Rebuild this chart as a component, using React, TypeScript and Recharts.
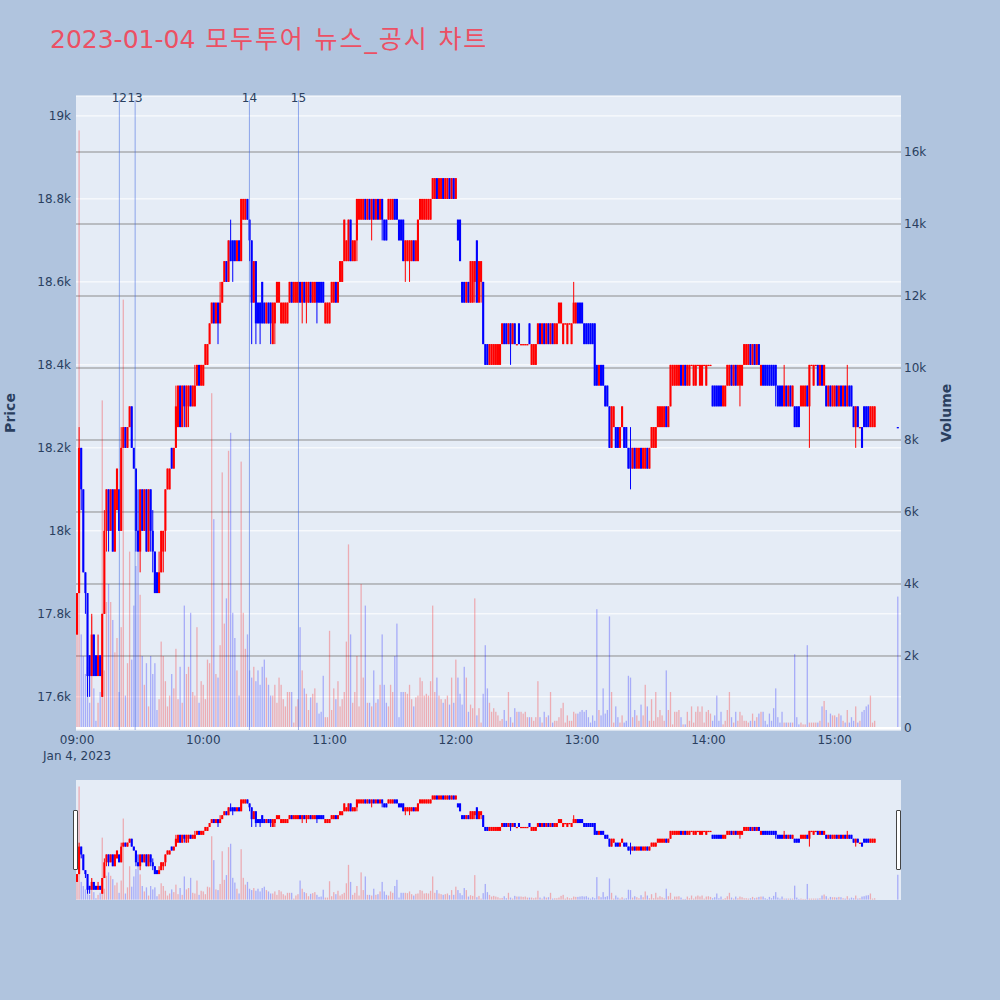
import React from 'react';
import { ComposedChart, Bar, XAxis, YAxis, CartesianGrid, ReferenceLine } from 'recharts';

// 1-minute candles, 09:00 .. 15:19 plus the 15:30 closing print
const MINUTES = [...Array.from({ length: 380 }, (_, i) => i), 390];

const OPEN = [
  17750,17850,18200,18100,17900,17850,17700,17650,17750,17700,
  17650,17700,17600,17800,18000,18100,18000,18100,17950,18050,
  18100,18000,18200,18250,18200,18250,18300,18200,18150,18000,
  17950,18100,18000,18100,17950,18100,18000,17950,17900,17850,
  17900,17950,18000,18100,18100,18200,18150,18200,18250,18350,
  18250,18350,18250,18300,18350,18300,18300,18350,18400,18350,
  18350,18400,18400,18450,18500,18550,18500,18550,18500,18550,
  18600,18650,18600,18700,18700,18700,18650,18700,18650,18750,
  18750,18800,18750,18700,18550,18650,18550,18550,18600,18550,
  18500,18550,18550,18450,18500,18550,18550,18500,18500,18500,
  18500,18550,18600,18550,18550,18550,18600,18550,18600,18550,
  18550,18600,18550,18550,18600,18600,18600,18600,18500,18500,
  18500,18550,18550,18600,18550,18600,18600,18650,18650,18650,
  18750,18650,18650,18700,18750,18750,18750,18800,18750,18800,
  18750,18800,18750,18800,18750,18800,18750,18750,18750,18750,
  18750,18800,18800,18750,18750,18750,18650,18650,18650,18650,
  18700,18650,18650,18750,18750,18750,18750,18750,18750,18800,
  18800,18850,18800,18800,18850,18800,18800,18850,18800,18850,
  18800,18750,18750,18600,18600,18550,18600,18550,18550,18600,
  18700,18550,18600,18600,18450,18450,18400,18400,18400,18400,
  18400,18400,18450,18500,18500,18450,18500,18450,18500,18450,
  18500,18450,18450,18450,18450,18500,18400,18400,18400,18450,
  18500,18450,18500,18450,18500,18450,18500,18450,18450,18500,
  18500,18450,18500,18450,18500,18450,18500,18500,18550,18550,
  18550,18500,18500,18500,18500,18500,18500,18400,18350,18400,
  18400,18350,18350,18300,18200,18250,18250,18250,18200,18250,
  18250,18250,18200,18200,18150,18200,18150,18150,18200,18150,
  18150,18200,18150,18200,18200,18200,18250,18250,18250,18250,
  18300,18250,18300,18350,18350,18350,18350,18400,18350,18400,
  18350,18350,18400,18350,18350,18400,18350,18350,18400,18350,
  18400,18400,18350,18350,18350,18350,18350,18300,18300,18350,
  18350,18400,18350,18400,18350,18350,18350,18400,18400,18400,
  18450,18400,18450,18400,18450,18350,18400,18400,18400,18400,
  18400,18400,18400,18350,18350,18350,18300,18350,18300,18350,
  18300,18300,18300,18300,18300,18300,18300,18350,18300,18400,
  18350,18400,18400,18350,18400,18350,18350,18300,18350,18300,
  18300,18350,18300,18350,18300,18350,18300,18350,18350,18300,
  18250,18300,18250,18250,18300,18300,18300,18250,18250,18250,
  18250,
];

const HIGH = [
  17850,18250,18200,18100,17900,17850,17700,17800,17750,17700,
  17750,17700,17800,18050,18100,18100,18100,18100,18100,18150,
  18100,18250,18250,18250,18250,18300,18300,18200,18150,18100,
  18100,18100,18100,18100,18100,18100,18050,17950,17900,17950,
  18000,18000,18100,18150,18150,18200,18200,18350,18350,18350,
  18350,18350,18350,18350,18350,18350,18400,18400,18400,18400,
  18400,18450,18450,18500,18550,18550,18550,18550,18600,18600,
  18650,18650,18700,18750,18700,18700,18700,18700,18800,18800,
  18800,18800,18750,18700,18650,18650,18550,18550,18600,18550,
  18550,18550,18550,18550,18550,18600,18600,18550,18550,18550,
  18550,18600,18600,18600,18600,18600,18600,18600,18600,18600,
  18600,18600,18600,18600,18600,18600,18600,18600,18550,18550,
  18550,18600,18600,18600,18600,18650,18650,18750,18700,18750,
  18750,18700,18700,18800,18800,18800,18800,18800,18800,18800,
  18800,18800,18800,18800,18800,18800,18750,18750,18800,18800,
  18800,18800,18800,18750,18750,18750,18700,18700,18700,18700,
  18700,18700,18750,18800,18800,18800,18800,18800,18800,18850,
  18850,18850,18850,18850,18850,18850,18850,18850,18850,18850,
  18850,18750,18750,18600,18600,18600,18600,18650,18650,18650,
  18700,18650,18650,18600,18450,18450,18450,18450,18450,18450,
  18450,18450,18500,18500,18500,18500,18500,18500,18500,18450,
  18500,18450,18450,18450,18450,18500,18450,18450,18450,18500,
  18500,18500,18500,18500,18500,18500,18500,18500,18500,18550,
  18550,18500,18500,18500,18500,18500,18600,18550,18550,18550,
  18550,18500,18500,18500,18500,18500,18500,18400,18400,18400,
  18400,18350,18350,18300,18300,18300,18250,18250,18250,18300,
  18250,18250,18200,18250,18200,18200,18200,18200,18200,18200,
  18200,18200,18200,18250,18250,18250,18300,18300,18300,18300,
  18300,18300,18400,18400,18400,18400,18400,18400,18400,18400,
  18400,18400,18400,18400,18400,18400,18400,18400,18400,18400,
  18400,18400,18350,18350,18350,18350,18350,18350,18350,18400,
  18400,18400,18400,18400,18400,18400,18400,18450,18450,18450,
  18450,18450,18450,18450,18450,18400,18400,18400,18400,18400,
  18400,18400,18400,18350,18350,18350,18400,18350,18350,18350,
  18350,18300,18300,18300,18350,18350,18350,18350,18400,18400,
  18400,18400,18400,18400,18400,18400,18350,18350,18350,18350,
  18350,18350,18350,18350,18350,18350,18400,18350,18350,18300,
  18300,18300,18250,18250,18300,18300,18300,18300,18300,18300,
  18250,
];

const LOW = [
  17750,17850,18050,17900,17800,17600,17600,17650,17650,17650,
  17650,17650,17600,17800,17950,17950,18000,17950,17950,18050,
  18000,18000,18200,18200,18200,18250,18200,18150,17950,17950,
  17900,18000,18000,17950,17950,17950,17900,17850,17850,17850,
  17900,17900,17950,18100,18100,18150,18150,18200,18250,18250,
  18250,18250,18250,18250,18300,18300,18300,18350,18350,18350,
  18350,18400,18400,18450,18500,18500,18500,18450,18500,18550,
  18600,18600,18600,18650,18600,18650,18650,18650,18650,18750,
  18750,18750,18650,18450,18550,18450,18500,18450,18500,18500,
  18500,18500,18450,18450,18450,18550,18550,18500,18500,18500,
  18500,18550,18550,18550,18550,18550,18550,18500,18550,18500,
  18550,18550,18550,18550,18500,18550,18550,18550,18500,18500,
  18500,18550,18550,18550,18550,18600,18600,18650,18650,18650,
  18650,18650,18650,18650,18750,18750,18750,18750,18750,18750,
  18700,18750,18750,18750,18750,18700,18700,18700,18750,18750,
  18750,18750,18750,18700,18700,18650,18600,18650,18600,18650,
  18650,18650,18650,18750,18750,18750,18750,18750,18750,18800,
  18800,18800,18800,18800,18800,18800,18800,18800,18800,18800,
  18800,18700,18650,18550,18550,18550,18550,18550,18550,18550,
  18550,18550,18550,18450,18400,18400,18400,18400,18400,18400,
  18400,18400,18450,18450,18450,18450,18400,18450,18450,18450,
  18450,18450,18450,18450,18450,18450,18400,18400,18400,18450,
  18450,18450,18450,18450,18450,18450,18450,18450,18450,18500,
  18500,18450,18500,18450,18500,18450,18500,18500,18500,18500,
  18500,18450,18450,18450,18450,18450,18350,18350,18350,18350,
  18350,18300,18300,18200,18200,18250,18200,18200,18200,18250,
  18200,18200,18150,18100,18150,18150,18150,18150,18150,18150,
  18150,18150,18150,18200,18200,18200,18250,18250,18250,18250,
  18250,18250,18300,18350,18350,18350,18350,18350,18350,18350,
  18350,18350,18400,18350,18350,18400,18350,18350,18400,18350,
  18400,18400,18300,18300,18300,18300,18300,18300,18300,18350,
  18350,18350,18350,18350,18350,18300,18350,18400,18400,18400,
  18400,18400,18400,18400,18400,18350,18350,18350,18350,18350,
  18350,18350,18300,18300,18300,18300,18300,18300,18300,18300,
  18300,18250,18250,18250,18300,18300,18300,18300,18200,18400,
  18350,18400,18350,18350,18350,18350,18300,18300,18300,18300,
  18300,18300,18300,18300,18300,18300,18300,18300,18300,18250,
  18200,18250,18250,18200,18250,18250,18250,18250,18250,18250,
  18250,
];

const CLOSE = [
  17850,18200,18100,17900,17850,17650,17650,17750,17650,17650,
  17700,17650,17800,18000,18100,18000,18100,17950,18100,18150,
  18000,18200,18250,18200,18250,18300,18200,18150,18000,17950,
  18100,18000,18100,17950,18100,18000,17950,17850,17850,17900,
  18000,18000,18100,18150,18150,18150,18200,18300,18350,18250,
  18350,18300,18350,18350,18300,18350,18350,18400,18350,18400,
  18400,18450,18450,18500,18550,18500,18550,18500,18550,18600,
  18650,18600,18700,18650,18650,18650,18700,18650,18800,18800,
  18800,18750,18700,18550,18650,18500,18500,18500,18500,18500,
  18550,18500,18500,18550,18550,18600,18600,18550,18550,18550,
  18550,18600,18550,18600,18600,18600,18550,18600,18550,18600,
  18600,18550,18600,18600,18550,18550,18550,18550,18550,18550,
  18550,18600,18600,18550,18600,18650,18650,18750,18700,18750,
  18650,18700,18700,18800,18800,18800,18800,18750,18800,18750,
  18800,18750,18800,18750,18800,18750,18700,18700,18800,18800,
  18800,18750,18750,18700,18700,18650,18700,18700,18700,18700,
  18650,18700,18750,18800,18800,18800,18800,18800,18800,18850,
  18850,18800,18850,18850,18800,18850,18850,18800,18850,18800,
  18850,18700,18650,18550,18550,18600,18550,18650,18650,18650,
  18550,18650,18650,18450,18400,18400,18450,18450,18450,18450,
  18450,18450,18500,18450,18450,18500,18450,18500,18450,18450,
  18450,18450,18450,18450,18450,18450,18450,18450,18450,18500,
  18450,18500,18450,18500,18450,18500,18450,18500,18500,18550,
  18550,18500,18500,18500,18500,18500,18550,18550,18500,18500,
  18500,18450,18450,18450,18450,18450,18350,18350,18400,18350,
  18350,18300,18300,18200,18300,18300,18200,18200,18250,18300,
  18200,18200,18150,18150,18200,18150,18200,18200,18150,18200,
  18200,18150,18200,18250,18250,18250,18300,18300,18300,18300,
  18250,18300,18400,18400,18400,18400,18400,18350,18400,18350,
  18400,18400,18400,18400,18400,18400,18400,18400,18400,18400,
  18400,18400,18300,18300,18300,18300,18300,18350,18350,18400,
  18400,18350,18400,18350,18400,18400,18400,18450,18450,18450,
  18400,18450,18400,18450,18400,18400,18350,18350,18350,18350,
  18350,18350,18350,18300,18300,18300,18350,18300,18350,18300,
  18350,18250,18250,18250,18350,18350,18350,18300,18400,18400,
  18400,18400,18350,18400,18350,18400,18300,18350,18300,18350,
  18350,18300,18350,18300,18350,18300,18350,18300,18300,18250,
  18300,18250,18250,18200,18250,18250,18250,18300,18300,18300,
  18250,
];

const VOLUME = [
  2700,16600,2600,2000,1500,1700,700,3100,1100,200,
  700,1000,9100,1600,3500,4000,3500,3000,2100,2500,
  1000,2800,11900,900,1800,4900,1900,3400,4500,5500,
  3700,2000,1200,1800,600,2000,1500,1800,500,800,
  2400,2000,1300,600,900,1500,1100,2200,800,1700,
  700,3400,1500,1700,3200,1000,900,2800,700,1300,
  1200,800,1900,1800,9300,5800,1500,1400,2300,7100,
  2900,3600,7700,8200,3200,2500,1600,900,7400,3200,
  2200,2600,1600,1400,1700,1300,1600,1200,1700,1900,
  1400,1200,900,900,1200,700,1400,1200,800,600,
  1000,1000,1000,150,600,800,2800,1600,1100,950,
  500,850,950,1100,700,400,450,1450,300,300,
  2700,500,1100,800,1300,600,800,1000,2400,5100,
  2600,700,1000,2000,600,4000,1400,3400,700,700,
  600,1600,700,800,1200,2600,1200,700,600,1200,
  1000,2000,2900,300,1000,1000,1000,950,1200,800,
  600,850,900,1400,1300,900,950,900,1300,3400,
  1000,1400,900,800,700,800,900,650,1400,700,
  1900,1400,950,650,1700,1400,450,650,550,3600,
  350,550,150,950,2300,1100,700,450,550,450,
  350,200,250,500,200,1000,300,150,550,450,
  450,450,400,450,300,300,300,200,300,1300,
  300,150,450,300,350,1000,150,200,200,300,
  550,700,150,350,200,200,450,400,400,450,
  500,450,500,300,150,350,200,3300,500,350,
  1100,400,500,3100,1000,150,600,300,150,350,
  150,200,1450,1400,300,500,350,200,650,350,
  1200,600,200,800,200,1000,300,500,350,200,
  1600,500,1000,100,450,450,500,300,100,100,
  450,200,600,150,450,600,450,600,150,450,
  500,400,200,350,900,200,450,100,200,500,
  1000,300,150,450,200,450,350,200,200,150,
  200,400,200,300,400,450,450,200,100,400,
  200,550,1100,300,150,450,150,150,150,150,
  150,2050,300,100,150,100,100,2300,150,150,
  150,150,150,200,600,750,500,150,400,350,
  350,300,400,350,200,150,500,150,300,200,
  600,150,200,450,500,600,650,900,150,200,
  3650,
];

const TIME_TICKS = [0, 60, 120, 180, 240, 300, 360];
const TIME_LABELS = ['09:00', '10:00', '11:00', '12:00', '13:00', '14:00', '15:00'];
const DATE_LABEL = 'Jan 4, 2023';
const PRICE_TICKS = [17600, 17800, 18000, 18200, 18400, 18600, 18800, 19000];
const VOL_TICKS = [0, 2000, 4000, 6000, 8000, 10000, 12000, 14000, 16000];
const VOL_GRID = [2000, 4000, 6000, 8000, 10000, 12000, 14000, 16000];

// news / disclosure markers (minutes after 09:00)
const NEWS_IDS = ['12', '13', '14', '15'];
const NEWS_AT = [20.1, 27.6, 81.9, 105.2];

const TITLE_DATE = '2023-01-04';
const TITLE_TEXT = ' 모두투어 뉴스_공시 차트';

const X_DOMAIN = [-0.5, 391.5];
const PRICE_DOMAIN = [17520, 19048];
const VOL_DOMAIN = [-56, 17556];

const UP = '#ff0000';
const DOWN = '#0000ff';
const INK = '#2a3f5f';
const FONT = '"DejaVu Sans", "Noto Sans CJK KR", sans-serif';

const data = MINUTES.map((t, i) => {
  const prev = i > 0 ? CLOSE[i - 1] : OPEN[i];
  const up = CLOSE[i] > OPEN[i] || (CLOSE[i] === OPEN[i] && CLOSE[i] >= prev);
  return {
    t,
    open: OPEN[i],
    high: HIGH[i],
    low: LOW[i],
    close: CLOSE[i],
    range: [LOW[i], HIGH[i]],
    volume: VOLUME[i],
    up,
  };
});

function Candle(props: any) {
  const { x, y, width, height, payload } = props;
  if (x == null || y == null || !payload) return null;
  const top = Math.min(y, y + height);
  const h = Math.abs(height);
  const span = payload.high - payload.low;
  const k = span > 0 ? h / span : 0;
  const cx = x + width / 2;
  const hi = Math.max(payload.open, payload.close);
  const lo = Math.min(payload.open, payload.close);
  const bodyTop = top + (payload.high - hi) * k;
  const bodyH = Math.max((hi - lo) * k, 1.2);
  const color = payload.up ? UP : DOWN;
  const bw = 2.1;
  return (
    <g>
      <rect x={cx - 0.5} y={top} width={1} height={Math.max(h, 1)} fill={color} />
      <rect x={cx - bw / 2} y={bodyTop} width={bw} height={bodyH} fill={color} />
    </g>
  );
}

function VolumeBar(props: any) {
  const { x, y, width, height, payload } = props;
  if (x == null || y == null || !payload) return null;
  const top = Math.min(y, y + height);
  return (
    <rect
      x={x + width / 2 - 0.65}
      y={top}
      width={1.3}
      height={Math.abs(height)}
      fill={payload.up ? UP : DOWN}
      fillOpacity={0.27}
    />
  );
}

function TimeTick({ x, y, payload }: any) {
  const i = TIME_TICKS.indexOf(payload.value);
  return (
    <g>
      <text x={x} y={y} dy="0.71em" textAnchor="middle" fill={INK} fontSize={12} fontFamily={FONT}>
        {TIME_LABELS[i]}
      </text>
      {i === 0 && (
        <text x={x} y={y + 16} dy="0.71em" textAnchor="middle" fill={INK} fontSize={12} fontFamily={FONT}>
          {DATE_LABEL}
        </text>
      )}
    </g>
  );
}

function AxisTitle({ viewBox, value, dx }: any) {
  if (!viewBox) return null;
  const cx = viewBox.x + dx;
  const cy = viewBox.y + viewBox.height / 2;
  return (
    <text
      x={cx}
      y={cy}
      transform={`rotate(-90 ${cx} ${cy})`}
      textAnchor="middle"
      dominantBaseline="central"
      fill={INK}
      fontSize={14}
      fontWeight="bold"
      fontFamily={FONT}
    >
      {value}
    </text>
  );
}

const fmtPrice = (v: number) => (v % 1000 === 0 ? `${v / 1000}k` : `${(v / 1000).toFixed(1)}k`);
const fmtVol = (v: number) => (v === 0 ? '0' : `${v / 1000}k`);

export default function App() {
  return (
    <div
      style={{
        position: 'absolute',
        left: 0,
        top: 0,
        width: 1000,
        height: 1000,
        background: '#B0C4DE',
        fontFamily: FONT,
        overflow: 'hidden',
      }}
    >
      <div
        style={{
          position: 'absolute',
          left: 50,
          top: 22,
          fontSize: 25,
          lineHeight: '36px',
          color: '#EC5064',
          whiteSpace: 'pre',
        }}
      >
        <span>{TITLE_DATE}</span>
        <span style={{ letterSpacing: '1.9px' }}>{TITLE_TEXT}</span>
      </div>

      <div style={{ position: 'absolute', left: 0, top: 0 }}>
        <ComposedChart
          width={1000}
          height={800}
          data={data}
          margin={{ top: 96, right: 39, bottom: 40, left: 16 }}
        >
          <CartesianGrid
            xAxisId="t"
            yAxisId="price"
            vertical={false}
            stroke="#ffffff"
            fill="#E5ECF6"
            fillOpacity={1}
          />
          <CartesianGrid
            xAxisId="t"
            yAxisId="vol"
            vertical={false}
            stroke="#8c8c8c"
            horizontalValues={VOL_GRID}
          />
          <XAxis
            xAxisId="t"
            dataKey="t"
            type="number"
            domain={X_DOMAIN}
            allowDataOverflow
            ticks={TIME_TICKS}
            interval={0}
            tick={<TimeTick />}
            axisLine={false}
            tickLine={false}
            tickSize={0}
            tickMargin={5}
            height={30}
          />
          <XAxis xAxisId="v" dataKey="t" type="number" domain={X_DOMAIN} allowDataOverflow hide />
          <YAxis
            yAxisId="price"
            orientation="left"
            type="number"
            domain={PRICE_DOMAIN}
            allowDataOverflow
            ticks={PRICE_TICKS}
            interval={0}
            tickFormatter={fmtPrice}
            tick={{ fill: INK, fontSize: 12, fontFamily: FONT }}
            axisLine={false}
            tickLine={false}
            tickSize={0}
            tickMargin={5}
            width={60}
            label={<AxisTitle value="Price" dx={-6} />}
          />
          <YAxis
            yAxisId="vol"
            orientation="right"
            type="number"
            domain={VOL_DOMAIN}
            allowDataOverflow
            ticks={VOL_TICKS}
            interval={0}
            tickFormatter={fmtVol}
            tick={{ fill: INK, fontSize: 12, fontFamily: FONT, textAnchor: 'start' }}
            axisLine={false}
            tickLine={false}
            tickSize={0}
            tickMargin={3}
            width={60}
            label={<AxisTitle value="Volume" dx={45} />}
          />
          <ReferenceLine xAxisId="t" yAxisId="vol" y={0} stroke="#ffffff" strokeWidth={2} />
          <Bar
            xAxisId="v"
            yAxisId="vol"
            dataKey="volume"
            barSize={2}
            shape={VolumeBar}
            isAnimationActive={false}
          />
          <Bar
            xAxisId="t"
            yAxisId="price"
            dataKey="range"
            barSize={2}
            shape={Candle}
            isAnimationActive={false}
          />
          {NEWS_AT.map((m, i) => (
            <ReferenceLine
              key={NEWS_IDS[i]}
              xAxisId="t"
              yAxisId="price"
              segment={[
                { x: m, y: 19038 },
                { x: m, y: 17520 },
              ]}
              stroke="#4169E1"
              strokeOpacity={0.55}
              strokeWidth={1}
              label={{ value: NEWS_IDS[i], position: 'top', offset: -2, fill: INK, fontSize: 12, fontFamily: FONT }}
            />
          ))}
        </ComposedChart>
      </div>

      {/* range slider */}
      <div
        style={{
          position: 'absolute',
          left: 76,
          top: 780,
          width: 825,
          height: 120,
          background: '#E5ECF6',
        }}
      >
        <ComposedChart width={825} height={120} data={data} margin={{ top: 0, right: 0, bottom: 0, left: 0 }}>
          <XAxis xAxisId="t" dataKey="t" type="number" domain={X_DOMAIN} allowDataOverflow hide />
          <XAxis xAxisId="v" dataKey="t" type="number" domain={X_DOMAIN} allowDataOverflow hide />
          <YAxis yAxisId="price" type="number" domain={PRICE_DOMAIN} allowDataOverflow hide />
          <YAxis yAxisId="vol" type="number" domain={VOL_DOMAIN} allowDataOverflow hide />
          <Bar
            xAxisId="v"
            yAxisId="vol"
            dataKey="volume"
            barSize={2}
            shape={VolumeBar}
            isAnimationActive={false}
          />
          <Bar
            xAxisId="t"
            yAxisId="price"
            dataKey="range"
            barSize={2}
            shape={Candle}
            isAnimationActive={false}
          />
        </ComposedChart>
      </div>
      <div
        style={{
          position: 'absolute',
          left: 73,
          top: 810,
          width: 3,
          height: 58,
          background: '#ffffff',
          border: '1px solid #444',
          borderRadius: 1,
        }}
      />
      <div
        style={{
          position: 'absolute',
          left: 896,
          top: 810,
          width: 3,
          height: 58,
          background: '#ffffff',
          border: '1px solid #444',
          borderRadius: 1,
        }}
      />
    </div>
  );
}
